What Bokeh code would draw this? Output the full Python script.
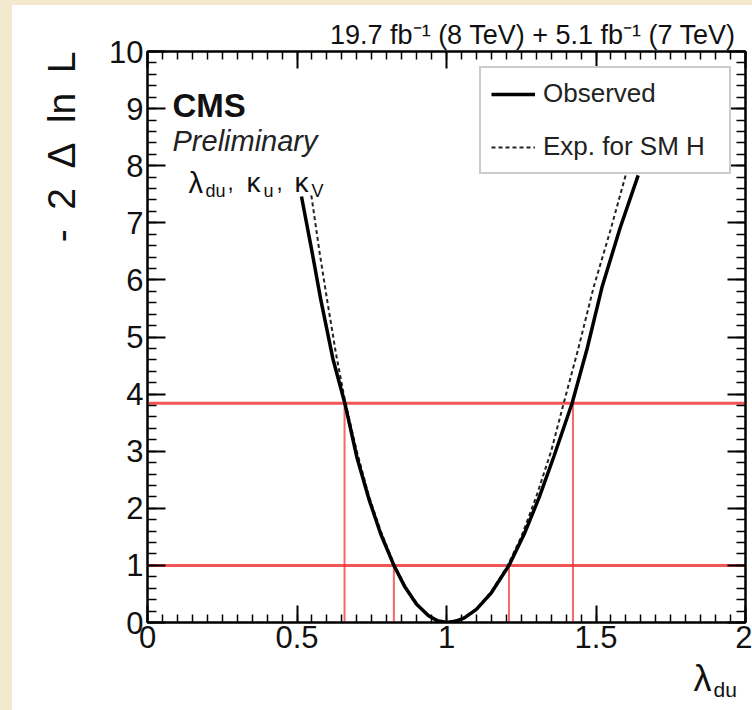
from bokeh.plotting import figure
from bokeh.models import (Range1d, LinearAxis, FixedTicker, Label, Legend, LegendItem,
                          Span, Spacer, Title)
from bokeh.layouts import row, column
from bokeh.embed import file_html
from bokeh.resources import INLINE

# ---------------- data ----------------
OBS_X = [0.515, 0.55, 0.58, 0.62, 0.66, 0.70, 0.74, 0.78, 0.824, 0.86, 0.90, 0.94, 0.97,
         1.00, 1.03, 1.06, 1.10, 1.15, 1.209, 1.26, 1.31, 1.36, 1.42, 1.47, 1.52, 1.58, 1.641]
OBS_Y = [7.46, 6.50, 5.64, 4.62, 3.84, 2.90, 2.17, 1.55, 1.00, 0.63, 0.32, 0.12, 0.03,
         0.00, 0.02, 0.08, 0.23, 0.52, 1.00, 1.55, 2.19, 2.92, 3.84, 4.79, 5.87, 6.90, 7.83]

EXP_X = [0.548, 0.575, 0.601, 0.63, 0.662, 0.70, 0.74, 0.78, 0.826, 0.87, 0.91, 0.95, 1.00,
         1.05, 1.10, 1.15, 1.205, 1.25, 1.30, 1.35, 1.392, 1.44, 1.492, 1.55, 1.599]
EXP_Y = [7.48, 6.50, 5.64, 4.72, 3.84, 3.00, 2.22, 1.60, 1.00, 0.56, 0.27, 0.08, 0.00,
         0.06, 0.24, 0.54, 1.00, 1.50, 2.20, 3.00, 3.84, 4.78, 5.87, 6.90, 7.83]

CL_LEVELS = [1.0, 3.84]
CROSS_X = [0.659, 0.824, 1.209, 1.423]
CROSS_Y = [3.84, 1.0, 1.0, 3.84]
CROSS_BASE = [0.0, 0.0, 0.0, 0.0]

X_TICKS = [0, 0.5, 1, 1.5, 2]
X_TICK_LABELS = ["0", "0.5", "1", "1.5", "2"]
Y_TICKS = [0, 1, 2, 3, 4, 5, 6, 7, 8, 9, 10]
Y_TICK_LABELS = ["0", "1", "2", "3", "4", "5", "6", "7", "8", "9", "10"]
X_MINOR = [i * 0.05 for i in range(41)]
Y_MINOR = [i * 0.2 for i in range(51)]

SERIES_NAMES = ["Observed", "Exp. for SM H"]
TOP_TEXT = "19.7 fb\u207b\u00b9 (8 TeV) +  5.1 fb\u207b\u00b9 (7 TeV)"
Y_TITLE = "-\u20022\u2002\u0394\u2002ln\u2002L"
X_TITLE_MAIN, X_TITLE_SUB = "\u03bb", "du"
FONT = "Liberation Sans"
BEIGE = "#f3e9cf"
RED = "#ee2a2a"

# page geometry (pixels)
PAGE_LEFT, PAGE_TOP = 12, 5
FRAME_LEFT, FRAME_BOTTOM = 147, 622
BORDER_LEFT, BORDER_RIGHT = FRAME_LEFT - PAGE_LEFT, 7
MAIN_H = 658
STRIP_H = 705 - MAIN_H
STRIP_SHIFT = 14  # measured offset of the strip's frame bottom below the page bottom

# ---------------- main figure ----------------
p = figure(width=740, height=MAIN_H, x_range=Range1d(0, 2), y_range=Range1d(0, 10),
           output_backend="svg", toolbar_location=None,
           min_border_left=BORDER_LEFT, min_border_right=BORDER_RIGHT, min_border_top=46,
           min_border_bottom=MAIN_H - (FRAME_BOTTOM - PAGE_TOP),
           background_fill_color="white", border_fill_color="white")
p.grid.visible = False
p.outline_line_color = "black"
p.outline_line_width = 2


def style_axis(ax, ticks, minor, labels, major_len, minor_len, show_labels=True):
    ax.ticker = FixedTicker(ticks=ticks, minor_ticks=minor)
    ax.major_label_overrides = {t: (lab if show_labels else "") for t, lab in zip(ticks, labels)}
    ax.major_tick_in = major_len
    ax.major_tick_out = 0
    ax.minor_tick_in = minor_len
    ax.minor_tick_out = 0
    ax.axis_line_color = "black"
    ax.axis_line_width = 2
    ax.major_tick_line_color = "black"
    ax.major_tick_line_width = 2
    ax.minor_tick_line_color = "black"
    ax.minor_tick_line_width = 1.5
    ax.major_label_text_font = FONT
    ax.major_label_text_font_size = "31px"
    ax.major_label_text_color = "#111111"
    ax.major_label_standoff = 3


style_axis(p.xaxis[0], X_TICKS, X_MINOR, X_TICK_LABELS, 17, 8)
p.xaxis[0].major_label_standoff = 3
style_axis(p.yaxis[0], Y_TICKS, Y_MINOR, Y_TICK_LABELS, 18, 9)
p.yaxis[0].major_label_standoff = 4

top_ax = LinearAxis()
style_axis(top_ax, X_TICKS, X_MINOR, X_TICK_LABELS, 17, 8, show_labels=False)
top_ax.major_label_standoff = 0
p.add_layout(top_ax, "above")
right_ax = LinearAxis()
style_axis(right_ax, Y_TICKS, Y_MINOR, Y_TICK_LABELS, 18, 9, show_labels=False)
right_ax.major_label_standoff = 0
p.add_layout(right_ax, "right")


# ---------------- titles outside the frame (side panels) ----------------
def make_title(text, size, standoff, offset):
    return Title(text=text, align="right", text_font=FONT, text_font_size=f"{size}px",
                 text_font_style="normal", text_color="#111111", offset=offset,
                 vertical_align="bottom", standoff=standoff)


p.add_layout(make_title(TOP_TEXT, 27, 4, 2), "above")
p.add_layout(make_title(Y_TITLE, 39, 48, 0), "left")

# ---------------- red confidence-level lines ----------------
for lvl in CL_LEVELS:
    p.add_layout(Span(location=lvl, dimension="width", line_color=RED, line_alpha=0.8,
                      line_width=3, level="underlay"))
p.segment(x0=CROSS_X, y0=CROSS_BASE, x1=CROSS_X, y1=CROSS_Y, line_color=RED,
          line_alpha=0.7, line_width=2)

# ---------------- curves ----------------
exp_r = p.line(EXP_X, EXP_Y, line_color="#222222", line_width=2, line_dash="4 3")
obs_r = p.line(OBS_X, OBS_Y, line_color="black", line_width=3.5)

legend = Legend(items=[LegendItem(label=SERIES_NAMES[0], renderers=[obs_r]),
                       LegendItem(label=SERIES_NAMES[1], renderers=[exp_r])],
                location=(332, 448), padding=10, spacing=22, label_height=26,
                glyph_height=26, glyph_width=44, label_width=176, label_standoff=8,
                label_text_font=FONT, label_text_font_size="26px", label_text_color="#222222",
                border_line_color="#999999", border_line_width=2,
                background_fill_color="white", background_fill_alpha=1.0, margin=0)
p.add_layout(legend)


# ---------------- texts inside the frame ----------------
def add_text(fig, text, sx, sy, size, style="normal", color="#111111"):
    fig.add_layout(Label(x=sx, y=sy, x_units="screen", y_units="screen", text=text,
                         text_font=FONT, text_font_size=f"{size}px", text_font_style=style,
                         text_align="left", text_baseline="alphabetic", text_color=color))


def main_text(text, px, py, size, style="normal", color="#111111"):
    add_text(p, text, px - FRAME_LEFT, FRAME_BOTTOM - py, size, style, color)


main_text("CMS", 172, 105, 33, style="bold")
main_text("Preliminary", 172, 140, 29, style="italic", color="#222222")
# lambda_du, kappa_u, kappa_V
main_text("\u03bb", 188, 182, 29)
main_text("du", 205, 190, 18)
main_text(",", 227, 182, 22)
main_text("\u03ba", 246, 182, 28)
main_text("u", 263, 190, 18)
main_text(",", 276, 182, 22)
main_text("\u03ba", 294, 182, 28)
main_text("V", 311, 190, 18)

# ---------------- strip below the main figure carrying the x-axis title ----------------
# its frame has the same left/right borders as the main figure's frame
strip = figure(width=740, height=STRIP_H, x_range=Range1d(0, 1), y_range=Range1d(0, 1),
               output_backend="svg", toolbar_location=None, x_axis_location=None,
               y_axis_location=None, min_border_left=BORDER_LEFT,
               min_border_right=BORDER_RIGHT, min_border_top=0, min_border_bottom=0,
               background_fill_color="white", border_fill_color="white")
strip.grid.visible = False
strip.outline_line_color = None
STRIP_BOTTOM = PAGE_TOP + 705 + STRIP_SHIFT


def strip_text(text, px, py, size):
    add_text(strip, text, px - FRAME_LEFT, STRIP_BOTTOM - py, size)


strip_text(X_TITLE_MAIN, 693, 692, 36)
strip_text(X_TITLE_SUB, 713, 703, 21)

# ---------------- page with beige margins ----------------
layout = column(Spacer(width=752, height=PAGE_TOP, styles={"background-color": BEIGE}),
                row(Spacer(width=PAGE_LEFT, height=705, styles={"background-color": BEIGE}),
                    column(p, strip)))

with open("out.html", "w") as f:
    f.write(file_html(layout, INLINE))
